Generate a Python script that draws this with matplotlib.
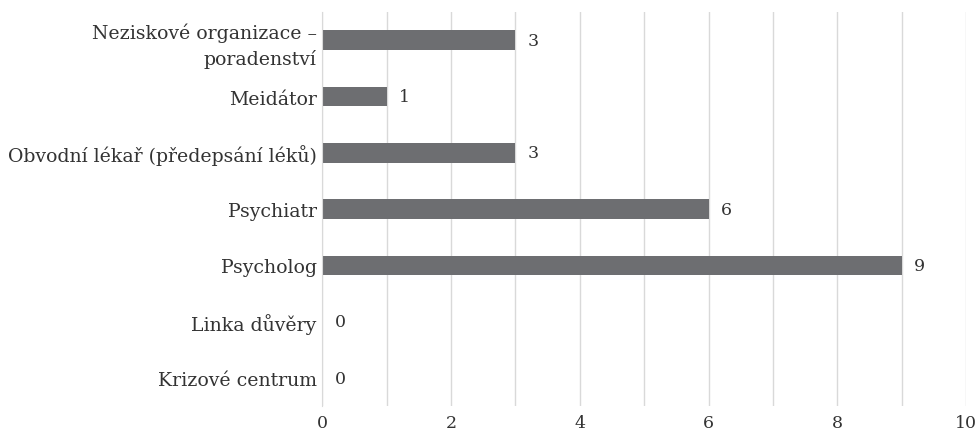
import matplotlib.pyplot as plt
from matplotlib.ticker import MultipleLocator

categories = ['Krizové centrum', 'Linka důvěry', 'Psycholog', 'Psychiatr',
              'Obvodní lékař (předepsání léků)', 'Meidátor',
              'Neziskové organizace –\nporadenství']
values = [0, 0, 9, 6, 3, 1, 3]

BAR_COLOR = '#6d6e71'
GRID_COLOR = '#d9d9d9'
TEXT_COLOR = '#333333'

plt.rcParams['font.family'] = ['DejaVu Serif']

fig = plt.figure(figsize=(9.79, 4.35), dpi=100)
ax = fig.add_axes([0.329, 0.064, 0.658, 0.906])

ax.barh(range(len(categories)), values, height=0.35, color=BAR_COLOR, zorder=3)
for i, v in enumerate(values):
    ax.annotate(str(v), (v, i), xytext=(9, 0), textcoords='offset points',
                va='center', ha='left', fontsize=12.5, color=TEXT_COLOR)

ax.set_xlim(0, 10)
ax.set_ylim(-0.5, len(categories) - 0.5)
ax.xaxis.set_major_locator(MultipleLocator(2))
ax.xaxis.set_minor_locator(MultipleLocator(1))
ax.grid(axis='x', which='both', color=GRID_COLOR, linewidth=1, zorder=0)

ax.set_yticks(range(len(categories)))
ax.set_yticklabels(categories, fontsize=13.6, color=TEXT_COLOR, ha='right',
                   linespacing=1.45)
ax.tick_params(axis='y', length=0, pad=4)
ax.tick_params(axis='x', which='both', length=0, labelsize=12.5, colors=TEXT_COLOR, pad=6)

for side in ['top', 'right', 'bottom']:
    ax.spines[side].set_visible(False)
ax.spines['left'].set_color(GRID_COLOR)
ax.spines['left'].set_zorder(4)

fig.savefig('out.png', dpi=100)
